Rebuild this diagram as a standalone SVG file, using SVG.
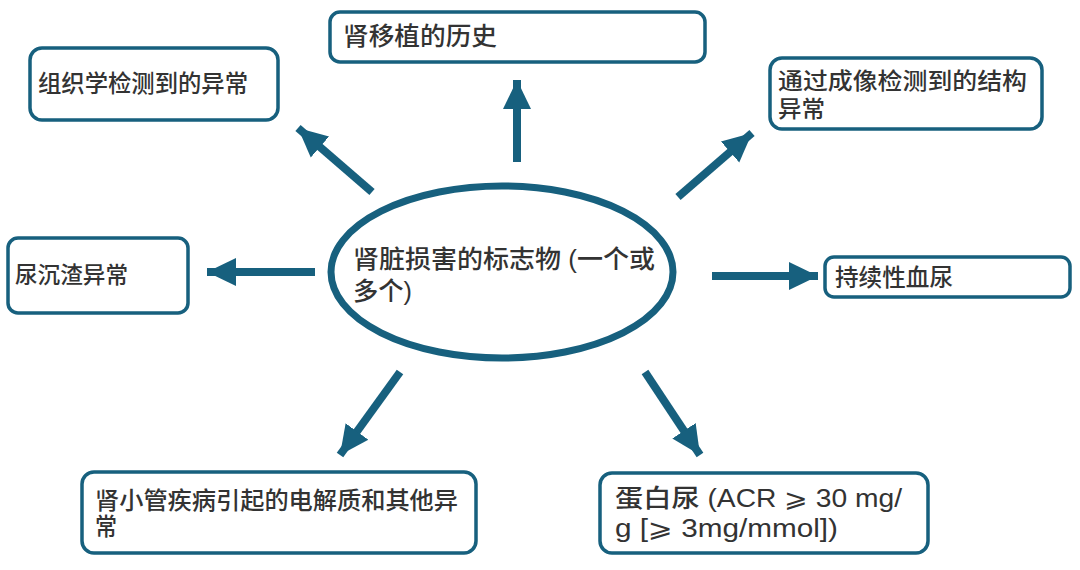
<svg xmlns="http://www.w3.org/2000/svg" width="1080" height="570" viewBox="0 0 1080 570">
<style>
.box{fill:#fff;stroke:#17607e;stroke-width:3.5}
.t{font-family:"Liberation Sans","Noto Sans CJK SC","DejaVu Sans",sans-serif;font-size:23.5px;fill:#333;font-weight:500}
.c{stroke:#17607e;stroke-width:8;fill:none}
</style>
<defs>
<marker id="ah" markerUnits="userSpaceOnUse" markerWidth="32" markerHeight="32" viewBox="0 0 32 32" refX="29" refY="16" orient="auto">
<path d="M0,2 L29,16 L0,30 Z" fill="#17607e"/>
</marker>
</defs>
<rect width="1080" height="570" fill="#fff"/>
<g id="connectors">
<line class="c" x1="517" y1="162" x2="517" y2="80" marker-end="url(#ah)"/>
<line class="c" x1="372" y1="192" x2="298" y2="128" marker-end="url(#ah)"/>
<line class="c" x1="678" y1="197" x2="752" y2="133" marker-end="url(#ah)"/>
<line class="c" x1="315" y1="272" x2="207" y2="272" marker-end="url(#ah)"/>
<line class="c" x1="712" y1="276" x2="818" y2="276" marker-end="url(#ah)"/>
<line class="c" x1="400" y1="372" x2="340" y2="455" marker-end="url(#ah)"/>
<line class="c" x1="645" y1="372" x2="700" y2="455" marker-end="url(#ah)"/>
</g>
<g id="center">
<ellipse cx="502" cy="272" rx="171" ry="86" fill="#fff" stroke="#17607e" stroke-width="7"/>
<text class="t" style="font-size:25.5px" x="353" y="268"><tspan x="353" textLength="302" lengthAdjust="spacingAndGlyphs">肾脏损害的标志物 (一个或</tspan><tspan x="353" y="300" textLength="59" lengthAdjust="spacingAndGlyphs">多个)</tspan></text>
</g>
<g id="histology">
<rect class="box" x="30" y="48" width="248" height="72" rx="12"/>
<text class="t" x="38" y="92" textLength="210" lengthAdjust="spacingAndGlyphs">组织学检测到的异常</text>
</g>
<g id="transplant">
<rect class="box" x="330" y="12" width="375" height="50" rx="10"/>
<text class="t" style="font-size:25px" x="343" y="45" textLength="154" lengthAdjust="spacingAndGlyphs">肾移植的历史</text>
</g>
<g id="imaging">
<rect class="box" x="770" y="58" width="272" height="71" rx="12"/>
<text class="t" style="font-size:23px" x="778" y="89"><tspan x="778" textLength="249" lengthAdjust="spacingAndGlyphs">通过成像检测到的结构</tspan><tspan x="778" y="117" textLength="47" lengthAdjust="spacingAndGlyphs">异常</tspan></text>
</g>
<g id="sediment">
<rect class="box" x="8" y="238" width="180" height="75" rx="10"/>
<text class="t" style="font-size:23px" x="15" y="283" textLength="113" lengthAdjust="spacingAndGlyphs">尿沉渣异常</text>
</g>
<g id="hematuria">
<rect class="box" x="825" y="257" width="245" height="40" rx="9"/>
<text class="t" x="835" y="286" textLength="118" lengthAdjust="spacingAndGlyphs">持续性血尿</text>
</g>
<g id="tubular">
<rect class="box" x="82" y="472" width="394" height="81" rx="12"/>
<text class="t" style="font-size:24px" x="95" y="509"><tspan x="95" textLength="363" lengthAdjust="spacingAndGlyphs">肾小管疾病引起的电解质和其他异</tspan><tspan x="95" y="535" textLength="22" lengthAdjust="spacingAndGlyphs">常</tspan></text>
</g>
<g id="albuminuria">
<rect class="box" x="600" y="473" width="328" height="80" rx="12"/>
<text class="t" style="font-size:25px" x="615" y="507"><tspan x="615" textLength="287" lengthAdjust="spacingAndGlyphs">蛋白尿 (ACR ⩾ 30 mg/</tspan><tspan x="615" y="537" textLength="223" lengthAdjust="spacingAndGlyphs">g [⩾ 3mg/mmol])</tspan></text>
</g>
</svg>
